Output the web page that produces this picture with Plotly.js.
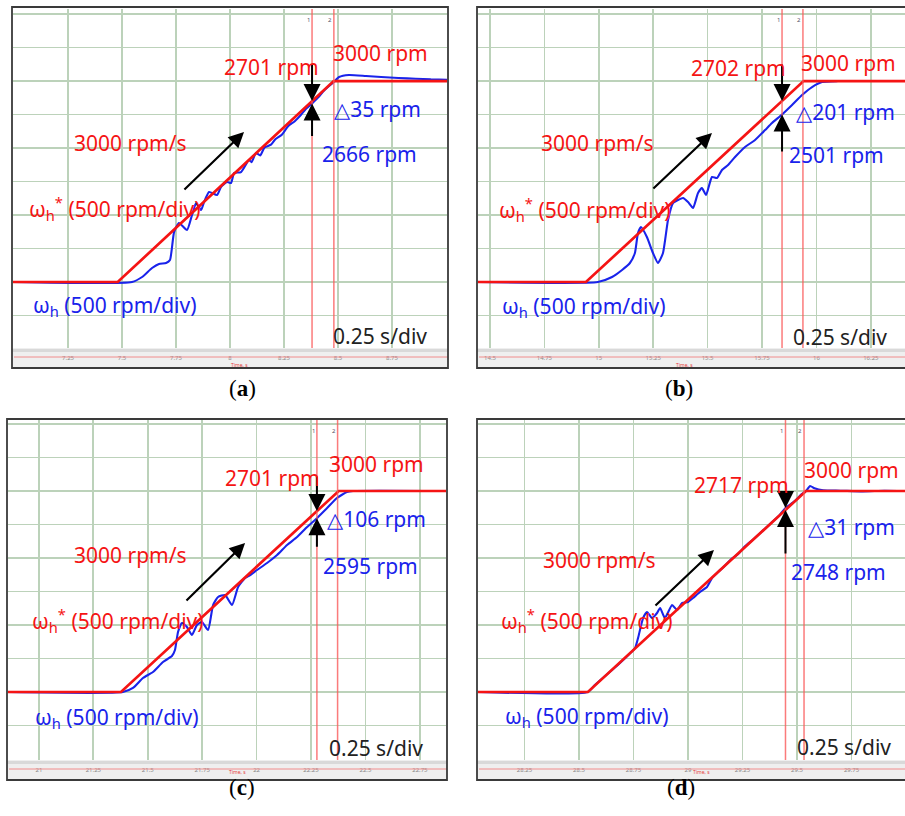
<!DOCTYPE html>
<html><head><meta charset="utf-8">
<script src="https://cdn.plot.ly/plotly-3.0.1.min.js"></script>
<style>html,body{margin:0;padding:0;background:#fff}#chart{width:905px;height:816px}</style>
</head><body><div id="chart"></div>
<script>
// ---------------- DATA ----------------
const panelNames = ['a', 'b', 'c', 'd'];
const rampRate = 3000;          // rpm/s
const finalSpeed = 3000;        // rpm
const timePerDiv = 0.25;        // s/div
const speedPerDiv = 500;        // rpm/div

// reference speed  wh*  (time s, rpm)
const refT_a = [6.995, 7.48, 8.48, 9.005];
const refW_a = [0, 0, 3000, 3000];
const refT_b = [14.445, 14.941, 15.941, 16.407];
const refW_b = [0, 0, 3000, 3000];
const refT_c = [20.858, 21.377, 22.377, 22.870];
const refW_c = [0, 0, 3000, 3000];
const refT_d = [28.037, 28.541, 29.541, 29.995];
const refW_d = [0, 0, 3000, 3000];

// actual speed  wh  (time s, rpm)
const actT_a = [6.995, 7.546, 7.593, 7.639, 7.671, 7.704, 7.722, 7.741, 7.764, 7.801, 7.824, 7.843, 7.866, 7.880, 7.903, 7.940, 7.958, 7.986, 8.005, 8.019, 8.051, 8.088, 8.10, 8.12, 8.14, 8.16, 8.19, 8.21, 8.24, 8.27, 8.30, 8.33, 8.35, 8.38, 8.41, 8.43, 8.46, 8.481, 8.505, 8.551, 8.63, 8.70, 8.78, 8.86, 8.93, 9.005];
const actW_a = [0, 0, 75, 209, 270, 284, 328, 746, 881, 776, 1000, 1179, 1075, 1194, 1344, 1299, 1418, 1493, 1478, 1627, 1642, 1821, 1790, 1926, 1890, 2010, 2050, 2130, 2200, 2330, 2400, 2500, 2580, 2666, 2760, 2840, 2930, 2986, 3060, 3090, 3075, 3060, 3045, 3035, 3025, 3020];

const actT_b = [14.445, 14.996, 15.061, 15.107, 15.143, 15.166, 15.180, 15.194, 15.221, 15.249, 15.272, 15.295, 15.318, 15.341, 15.364, 15.387, 15.410, 15.433, 15.456, 15.474, 15.493, 15.520, 15.543, 15.566, 15.594, 15.626, 15.672, 15.718, 15.764, 15.796, 15.842, 15.888, 15.934, 15.980, 16.026, 16.099, 16.407];
const actW_b = [0, 0, 75, 179, 284, 433, 731, 821, 672, 433, 284, 433, 926, 1179, 1224, 1254, 1194, 1105, 1329, 1403, 1299, 1568, 1553, 1672, 1747, 1866, 2016, 2120, 2269, 2374, 2501, 2643, 2792, 2911, 2986, 3000, 3000];

const actT_c = [20.858, 21.386, 21.432, 21.478, 21.524, 21.570, 21.611, 21.625, 21.639, 21.657, 21.680, 21.703, 21.726, 21.749, 21.777, 21.800, 21.823, 21.855, 21.887, 21.915, 21.947, 21.970, 22.002, 22.048, 22.094, 22.140, 22.186, 22.232, 22.277, 22.324, 22.369, 22.415, 22.443, 22.870];
const actW_c = [0, 0, 60, 209, 299, 448, 537, 627, 896, 1030, 970, 851, 1000, 1045, 925, 1298, 1418, 1448, 1298, 1567, 1701, 1746, 1821, 1925, 2045, 2194, 2313, 2463, 2595, 2746, 2896, 2985, 3000, 3000];

const actT_d = [28.037, 28.541, 28.573, 28.688, 28.757, 28.771, 28.794, 28.812, 28.835, 28.858, 28.872, 28.894, 28.927, 28.950, 28.972, 29.000, 29.023, 29.055, 29.087, 29.110, 29.138, 29.17, 29.20, 29.23, 29.26, 29.30, 29.34, 29.38, 29.42, 29.447, 29.49, 29.52, 29.541, 29.56, 29.58, 29.62, 29.70, 29.80, 29.90, 29.995];
const actW_d = [0, 0, 104, 433, 657, 806, 1104, 1194, 1104, 1179, 1254, 1104, 1298, 1224, 1328, 1343, 1403, 1492, 1567, 1701, 1791, 1890, 1990, 2060, 2170, 2280, 2400, 2520, 2640, 2748, 2850, 2950, 3000, 3075, 3040, 3010, 3005, 2995, 3005, 3000];

// cursors
const cursor1T = [8.380, 15.842, 22.277, 29.447];
const cursor2T = [8.481, 15.938, 22.372, 29.532];
const cursorRef = [2701, 2702, 2701, 2717];
const cursorAct = [2666, 2501, 2595, 2748];
const cursorErr = [35, 201, 106, 31];

// time tick labels on the bottom strip
const ticks_a = [7.25, 7.5, 7.75, 8, 8.25, 8.5, 8.75];
const ticks_b = [14.5, 14.75, 15, 15.25, 15.5, 15.75, 16, 16.25];
const ticks_c = [21, 21.25, 21.5, 21.75, 22, 22.25, 22.5, 22.75];
const ticks_d = [28.25, 28.5, 28.75, 29, 29.25, 29.5, 29.75];
const speedTicks = [-500, 0, 500, 1000, 1500, 2000, 2500, 3000, 3500, 4000];

// decorative slope arrow (tail -> head), in time/rpm
const slopeTail = [[7.782, 1359], [15.244, 1374], [21.671, 1343], [28.844, 1269]];
const slopeHead = [[8.065, 2240], [15.520, 2225], [21.947, 2224], [29.119, 2119]];

// ---------------- LAYOUT CONFIG ----------------
const W = 905, H = 816;
const geo = [
  {L: 12, R: 448, T: 7, B: 368, pl: 13, pr: 447, pt: 9, pb: 348},
  {L: 477, R: 915, T: 7, B: 368, pl: 478, pr: 905, pt: 9, pb: 348},
  {L: 7, R: 447, T: 419, B: 780, pl: 8, pr: 446, pt: 420, pb: 760},
  {L: 477, R: 915, T: 419, B: 780, pl: 478, pr: 905, pt: 420, pb: 760}
];
const xRanges = [[6.995, 9.005], [14.445, 16.407], [20.858, 22.870], [28.037, 29.995]];
const yRanges = [[-985, 4076], [-985, 4076], [-1015, 4060], [-1015, 4060]];
const refT = [refT_a, refT_b, refT_c, refT_d], refW = [refW_a, refW_b, refW_c, refW_d];
const actT = [actT_a, actT_b, actT_c, actT_d], actW = [actW_a, actW_b, actW_c, actW_d];
const ticks = [ticks_a, ticks_b, ticks_c, ticks_d];
// arrow tail lengths (rpm) above / below the tips
const arrowLen = [[567, 508], [567, 575], [537, 448], [269, 672]];
// text label positions (px, left x / middle y)
const lbl = [
  {fin: [331, 53], ref: [222, 67], err: [332, 109], act: [320, 154], rate: [72, 143], wref: [27, 208], wact: [31, 306], div: [331, 336], cap: [227, 388], time: [229, 365]},
  {fin: [799, 63], ref: [689, 68], err: [794, 112], act: [787, 155], rate: [539, 143], wref: [497, 210], wact: [500, 307], div: [791, 337], cap: [695, 388], time: [695, 365]},
  {fin: [327, 464], ref: [223, 478], err: [325, 519], act: [321, 566], rate: [72, 555], wref: [30, 620], wact: [33, 718], div: [327, 748], cap: [227, 802], time: [227, 777]},
  {fin: [802, 470], ref: [692, 485], err: [806, 527], act: [789, 572], rate: [541, 560], wref: [499, 620], wact: [503, 717], div: [795, 747], cap: [697, 802], time: [712, 777]}
];

const RED = 'rgb(245,20,20)', BLUE = 'rgb(25,35,235)', DARK = '#222';
const FONT = 'Noto Sans, DejaVu Sans, sans-serif';
const px = x => x / W, py = y => 1 - y / H;

const traces = [], shapes = [], annotations = [];
const layout = {
  width: W, height: H, margin: {l: 0, r: 0, t: 0, b: 0},
  paper_bgcolor: '#fff', plot_bgcolor: '#fff', showlegend: false,
  font: {family: FONT}
};

for (let i = 0; i < 4; i++) {
  const g = geo[i];
  const sx = i === 0 ? '' : String(i + 1);
  const xa = 'x' + sx, ya = 'y' + sx;
  layout['xaxis' + sx] = {
    domain: [px(g.pl), Math.min(1, px(g.pr))], range: xRanges[i], anchor: ya,
    tickvals: ticks[i], ticktext: ticks[i].map(v => String(v)),
    showgrid: true, gridcolor: 'rgb(188,210,186)', gridwidth: 1.7,
    zeroline: false, showline: false, ticks: '',
    tickfont: {size: 6, color: '#888'}, ticklabelstandoff: 5, fixedrange: true
  };
  layout['yaxis' + sx] = {
    domain: [py(g.pb), py(g.pt)], range: yRanges[i], anchor: xa,
    tickvals: speedTicks, showticklabels: false,
    showgrid: true, gridcolor: 'rgb(188,210,186)', gridwidth: 1.7,
    zeroline: false, showline: false, ticks: '', fixedrange: true
  };
  // actual speed then reference on top
  traces.push({x: actT[i], y: actW[i], xaxis: xa, yaxis: ya, type: 'scatter', mode: 'lines',
    line: {color: BLUE, width: 2.1, shape: 'spline', smoothing: 0.5}, hoverinfo: 'skip'});
  traces.push({x: refT[i], y: refW[i], xaxis: xa, yaxis: ya, type: 'scatter', mode: 'lines',
    line: {color: RED, width: 2.7}, hoverinfo: 'skip'});

  // bottom strip
  shapes.push({type: 'rect', xref: 'paper', yref: 'paper', x0: px(g.L), x1: px(g.R), y0: py(g.B), y1: py(g.pb),
    fillcolor: '#efefef', line: {width: 0}, layer: 'below'});
  shapes.push({type: 'line', xref: 'paper', yref: 'paper', x0: px(g.L), x1: px(g.R), y0: py(g.pb + 2.5), y1: py(g.pb + 2.5),
    line: {color: '#d9d9d9', width: 3}});
  shapes.push({type: 'line', xref: 'paper', yref: 'paper', x0: px(g.L + 2), x1: px(g.R), y0: py(g.pb + 9), y1: py(g.pb + 9),
    line: {color: 'rgb(240,140,140)', width: 1}});
  // frame
  shapes.push({type: 'rect', xref: 'paper', yref: 'paper', x0: px(g.L), x1: px(g.R), y0: py(g.B), y1: py(g.T),
    line: {color: '#3a3a3a', width: 1.8}, fillcolor: 'rgba(0,0,0,0)'});
  // cursors
  [cursor1T[i], cursor2T[i]].forEach((ct, k) => {
    shapes.push({type: 'line', xref: xa, yref: ya + ' domain', x0: ct, x1: ct, y0: 0, y1: 1,
      line: {color: 'rgba(250,90,90,0.8)', width: 1.5}});
    annotations.push({xref: xa, yref: ya + ' domain', x: ct, y: 0.985, text: String(k + 1), showarrow: false,
      font: {size: 6, color: '#556'}, xanchor: 'right'});
  });

  // cursor arrows
  const tipHi = Math.max(cursorRef[i], cursorAct[i]);
  const tipLo = Math.min(cursorRef[i], cursorAct[i]);
  annotations.push({xref: xa, yref: ya, axref: xa, ayref: ya, x: cursor1T[i], y: tipHi,
    ax: cursor1T[i], ay: tipHi + arrowLen[i][0], text: '', showarrow: true,
    arrowhead: 2, arrowsize: 1.7, arrowwidth: 2, arrowcolor: '#000', standoff: 0});
  annotations.push({xref: xa, yref: ya, axref: xa, ayref: ya, x: cursor1T[i], y: tipLo,
    ax: cursor1T[i], ay: tipLo - arrowLen[i][1], text: '', showarrow: true,
    arrowhead: 2, arrowsize: 1.7, arrowwidth: 2, arrowcolor: '#000', standoff: 0});
  // slope arrow
  annotations.push({xref: xa, yref: ya, axref: xa, ayref: ya, x: slopeHead[i][0], y: slopeHead[i][1],
    ax: slopeTail[i][0], ay: slopeTail[i][1], text: '', showarrow: true,
    arrowhead: 2, arrowsize: 1.4, arrowwidth: 2.2, arrowcolor: '#000', standoff: 0});

  const L = lbl[i];
  const txt = (pos, text, color) => annotations.push({xref: 'paper', yref: 'paper', x: px(pos[0]), y: py(pos[1]),
    xanchor: 'left', yanchor: 'middle', text: text, showarrow: false, font: {family: FONT, size: 21, color: color}});
  txt(L.fin, finalSpeed + ' rpm', RED);
  txt(L.ref, cursorRef[i] + ' rpm', RED);
  txt(L.err, '\u25B3' + cursorErr[i] + ' rpm', BLUE);
  txt(L.act, cursorAct[i] + ' rpm', BLUE);
  txt(L.rate, rampRate + ' rpm/s', RED);
  txt(L.wref, '\u03C9<sub>h</sub><sup>*</sup> (' + speedPerDiv + ' rpm/div)', RED);
  txt(L.wact, '\u03C9<sub>h</sub> (' + speedPerDiv + ' rpm/div)', BLUE);
  txt(L.div, timePerDiv + ' s/div', DARK);
  annotations.push({xref: 'paper', yref: 'paper', x: px(L.time[0]), y: py(L.time[1]), text: 'Time, s',
    showarrow: false, font: {size: 5, color: 'rgb(230,60,60)'}});
  annotations.push({xref: 'paper', yref: 'paper', x: px(L.cap[0]), y: py(L.cap[1]), text: '(<b>' + panelNames[i] + '</b>)',
    showarrow: false, font: {family: 'Liberation Serif, serif', size: 23, color: '#000'}});
}
layout.shapes = shapes;
layout.annotations = annotations;
Plotly.newPlot('chart', traces, layout, {staticPlot: true, displayModeBar: false});
</script></body></html>
